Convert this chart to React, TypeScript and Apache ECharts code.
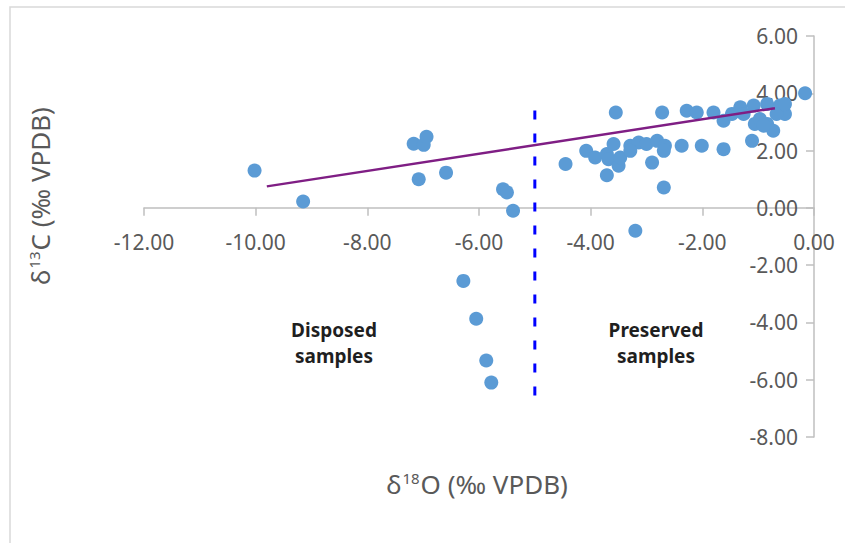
import React, { useEffect, useRef } from "react";
import * as echarts from "echarts";

// δ18O (x), δ13C (y) pairs
const disposedSamples: [number, number][] = [
  [-10.02, 1.3], [-9.15, 0.22], [-7.17, 2.24], [-6.99, 2.2], [-6.94, 2.48],
  [-7.08, 1.0], [-6.59, 1.23], [-5.57, 0.65], [-5.5, 0.54], [-5.39, -0.1],
  [-6.28, -2.55], [-6.05, -3.87], [-5.87, -5.33], [-5.78, -6.1],
];

const preservedSamples: [number, number][] = [
  [-4.45, 1.53], [-4.08, 1.99], [-3.92, 1.76], [-3.71, 1.14], [-3.71, 1.88],
  [-3.68, 1.7], [-3.59, 2.23], [-3.5, 1.47], [-3.47, 1.76], [-3.55, 3.33],
  [-3.29, 2.17], [-3.14, 2.28], [-3.29, 1.99], [-3.0, 2.23], [-2.81, 2.34],
  [-2.67, 2.17], [-2.69, 1.99], [-2.9, 1.58], [-2.69, 0.71], [-3.2, -0.8],
  [-2.37, 2.17], [-2.72, 3.33], [-2.28, 3.39], [-2.1, 3.33], [-1.8, 3.33],
  [-1.62, 3.04], [-1.47, 3.28], [-1.32, 3.51], [-1.26, 3.28], [-1.08, 3.57],
  [-0.84, 3.63], [-0.61, 3.57], [-0.52, 3.28], [-0.67, 3.28], [-1.06, 2.93],
  [-0.84, 2.93], [-0.73, 2.69], [-1.11, 2.34], [-0.97, 3.1], [-2.01, 2.17],
  [-1.62, 2.05], [-0.16, 4.0], [-0.9, 2.87], [-0.52, 3.63],
];

const trendLine: [number, number][] = [[-9.8, 0.75], [-0.7, 3.48]];
const boundaryLine: [number, number][] = [[-5, 3.4], [-5, -6.6]];

const xTicks = { min: -12, max: 0, interval: 2 };
const yTicks = { min: -8, max: 6, interval: 2 };

const xTitle = "δ{sup|18}O (‰ VPDB)";
const yTitle = "δ{sup|13}C (‰ VPDB)";
const disposedLabel = "Disposed\nsamples";
const preservedLabel = "Preserved\nsamples";

const GRID = { left: 144, right: 31, top: 36, bottom: 106 };
const HEIGHT = 543;

export default function App() {
  const ref = useRef<HTMLDivElement>(null);
  useEffect(() => {
    if (!ref.current) return;
    const chart = echarts.init(ref.current, null, { renderer: "svg" });
    const axisFont = { fontFamily: "Noto Sans", fontSize: 21, color: "#595959" };
    const titleRich = {
      sup: { fontFamily: "Noto Sans", fontSize: 15, color: "#595959", verticalAlign: "top" as const, padding: [0, 1, 12, 1] },
    };
    // move the x axis (line + labels) up to y = 0
    const gridH = HEIGHT - GRID.top - GRID.bottom;
    const xOffset = -gridH * (0 - yTicks.min) / (yTicks.max - yTicks.min);
    chart.setOption({
      animation: false,
      backgroundColor: "#ffffff",
      grid: GRID,
      xAxis: {
        type: "value",
        min: xTicks.min,
        max: xTicks.max,
        interval: xTicks.interval,
        offset: xOffset,
        axisLine: { onZero: false, lineStyle: { color: "#bfbfbf", width: 1.5 } },
        axisTick: { show: true, length: 8, lineStyle: { color: "#bfbfbf", width: 1.5 } },
        axisLabel: { ...axisFont, margin: 24, formatter: (v: number) => v.toFixed(2) },
        splitLine: { show: false },
      },
      yAxis: {
        type: "value",
        position: "right",
        min: yTicks.min,
        max: yTicks.max,
        interval: yTicks.interval,
        axisLine: { show: true, onZero: false, lineStyle: { color: "#bfbfbf", width: 1.5 } },
        axisTick: { show: true, inside: true, length: 8, lineStyle: { color: "#bfbfbf", width: 1.5 } },
        axisLabel: { ...axisFont, inside: true, margin: 16, formatter: (v: number) => v.toFixed(2) },
        splitLine: { show: false },
      },
      series: [
        {
          type: "scatter",
          data: [...disposedSamples, ...preservedSamples],
          symbolSize: 14,
          itemStyle: { color: "#5b9bd5", opacity: 1 },
          z: 2,
        },
        {
          type: "line",
          data: trendLine,
          symbol: "none",
          lineStyle: { color: "#7f1e84", width: 2.5 },
          z: 3,
        },
        {
          type: "line",
          data: boundaryLine,
          symbol: "none",
          lineStyle: { color: "#0000ff", width: 3, type: [9, 14] },
          z: 3,
        },
      ],
      graphic: [
        {
          type: "rect",
          shape: { x: 10, y: 7, width: 900, height: 600 },
          style: { fill: "none", stroke: "#d9d9d9", lineWidth: 1.5 },
          silent: true,
        },
        {
          type: "text",
          x: 40,
          y: 196,
          rotation: Math.PI / 2,
          style: {
            text: yTitle,
            fontFamily: "Noto Sans",
            fontSize: 26,
            fill: "#595959",
            align: "center",
            verticalAlign: "middle",
            rich: titleRich,
          },
        },
        {
          type: "text",
          x: 477,
          y: 484,
          style: {
            text: xTitle,
            fontFamily: "Noto Sans",
            fontSize: 26,
            fill: "#595959",
            align: "center",
            verticalAlign: "middle",
            rich: titleRich,
          },
        },
        {
          type: "text",
          x: 334,
          y: 343,
          style: {
            text: disposedLabel,
            fontFamily: "Noto Sans",
            fontWeight: "bold",
            fontSize: 19,
            lineHeight: 26,
            fill: "#1f1f1f",
            align: "center",
            verticalAlign: "middle",
          },
        },
        {
          type: "text",
          x: 656,
          y: 343,
          style: {
            text: preservedLabel,
            fontFamily: "Noto Sans",
            fontWeight: "bold",
            fontSize: 19,
            lineHeight: 26,
            fill: "#1f1f1f",
            align: "center",
            verticalAlign: "middle",
          },
        },
      ],
    });
    return () => chart.dispose();
  }, []);
  return (
    <div
      ref={ref}
      style={{ position: "absolute", left: 0, top: 0, width: 845, height: 543 }}
    />
  );
}
